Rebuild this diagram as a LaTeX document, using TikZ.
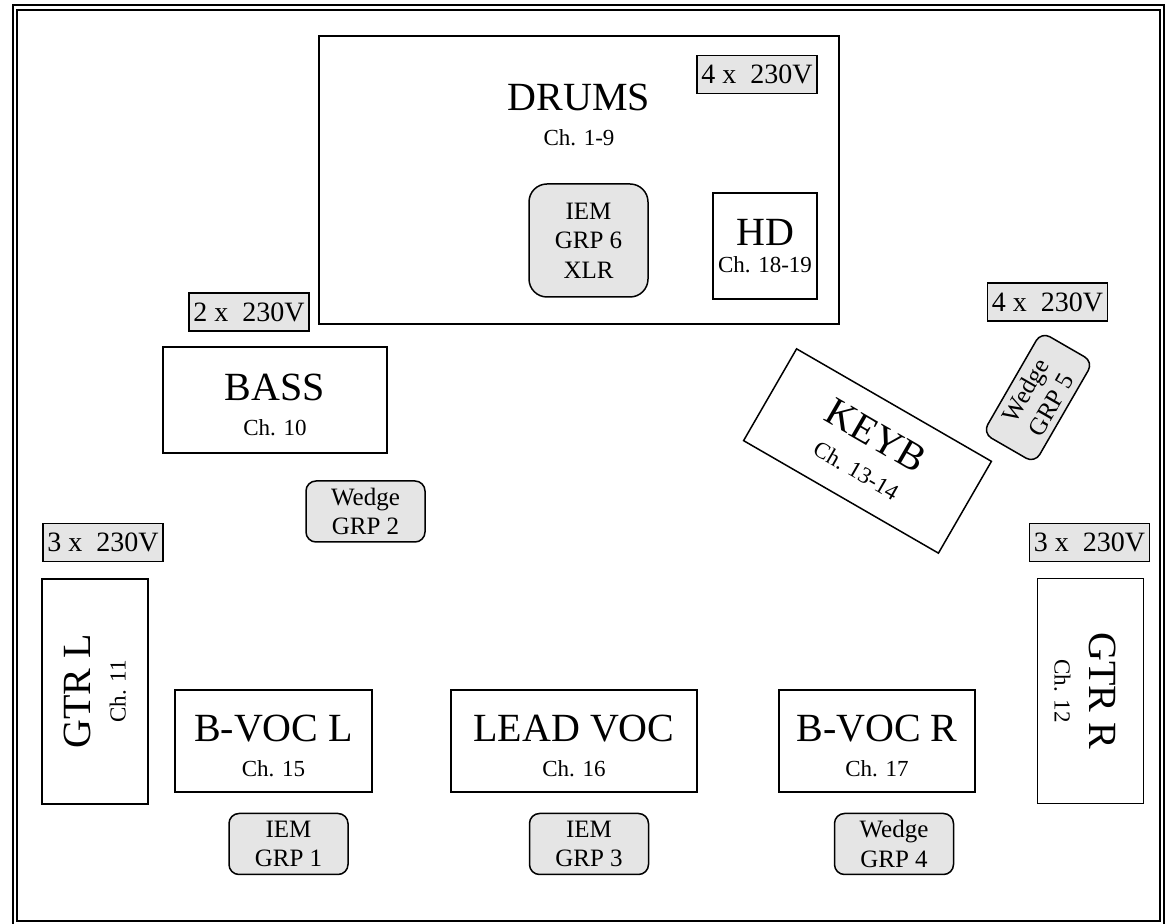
\documentclass[tikz,border=0pt]{standalone}
\usepackage{fontspec}
\setmainfont{Liberation Serif}
\usepackage{xcolor}
\usetikzlibrary{positioning}
\newcommand\chfont{\fontsize{23}{26}\selectfont}
\newcommand\namestrut{\rule{0pt}{37pt}}
\tikzset{
  stagepicture/.style={x=1pt, y=1pt, line width=1.5pt},
  stagebox/.style={draw, align=center, inner sep=0pt, font=\fontsize{40}{35}\selectfont, minimum width=224pt, minimum height=106pt},
  stagelabel/.style={align=center, inner sep=0pt, font=\fontsize{40}{35}\selectfont},
  stagepower/.style={draw, fill=black!10, inner sep=0pt, font=\fontsize{28}{30}\selectfont, minimum width=120pt, minimum height=38pt},
  stagemon/.style={draw, fill=black!10, rounded corners=10pt, align=center, inner sep=0pt, font=\fontsize{25}{29.5}\selectfont, minimum width=119pt, minimum height=61pt}
}
\begin{document}
\begin{tikzpicture}[stagepicture]
\useasboundingbox (0,0) rectangle (1169,923);
% double frame
\draw (13,918) rectangle (1164,-4);
\draw (17,913) rectangle (1160,2);
% drum riser
\node[stagebox, minimum width=520pt, minimum height=288pt] (drums) at (579,743) {};
\node[stagelabel, below=48pt of drums.north] (drumsname) {DRUMS\\{\chfont Ch. 1-9}};
\node[stagepower] (pwrdrums) at (757,848.5) {4 x~~230V};
\node[stagemon, rounded corners=18pt, minimum height=113pt] (iem6) at (588.5,682.5) {IEM\\GRP 6\\XLR};
\node[stagebox, minimum width=104pt] (hd) at (765,677) {HD\\[-8pt]{\chfont Ch. 18-19}};
% bass and keys
\node[stagepower] (pwrbass) at (249,611) {2 x~~230V};
\node[stagebox] (bass) at (275,523) {\namestrut BASS\\{\chfont Ch. 10}};
\node[stagemon] (wedge2) at (365.5,411.5) {Wedge\\GRP 2};
\node[stagepower] (pwrkeyb) at (1047.5,621) {4 x~~230V};
\node[stagebox, minimum width=225pt, rotate=-30] (keyb) at (867.5,472) {KEYB\\{\chfont Ch. 13-14}};
\node[stagemon, minimum width=117pt, minimum height=60pt, rotate=60] (wedge5) at (1038,525.5) {Wedge\\GRP 5};
% guitars
\node[stagepower] (pwrgtrl) at (103,380.5) {3 x~~230V};
\node[stagebox, minimum width=225pt, rotate=90] (gtrl) at (95,231.5) {GTR L\\{\chfont Ch. 11}};
\node[stagepower] (pwrgtrr) at (1089.5,380.5) {3 x~~230V};
\node[stagebox, minimum width=225pt, rotate=-90] (gtrr) at (1090.5,232) {\namestrut GTR R\\{\chfont Ch. 12}};
% vocals
\node[stagebox, minimum width=197pt, minimum height=102pt] (bvocl) at (273.5,182) {\namestrut B-VOC L\\{\chfont Ch. 15}};
\node[stagebox, minimum width=246pt, minimum height=102pt] (leadvoc) at (574,182) {\namestrut LEAD VOC\\{\chfont Ch. 16}};
\node[stagebox, minimum width=196pt, minimum height=102pt] (bvocr) at (877,182) {\namestrut B-VOC R\\{\chfont Ch. 17}};
\node[stagemon, below=20pt of bvocl, xshift=15pt] (iem1) {IEM\\GRP 1};
\node[stagemon, below=20pt of leadvoc, xshift=15pt] (iem3) {IEM\\GRP 3};
\node[stagemon, below=20pt of bvocr, xshift=17pt] (wedge4) {Wedge\\GRP 4};
\end{tikzpicture}
\end{document}
